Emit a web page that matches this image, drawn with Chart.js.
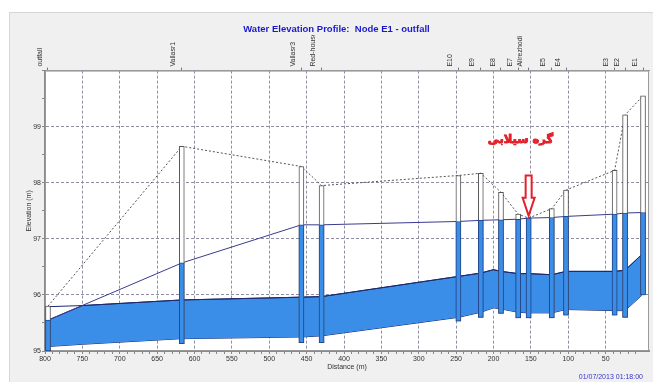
<!DOCTYPE html>
<html>
<head>
<meta charset="utf-8">
<style>
  html, body { margin: 0; padding: 0; background: #fff; }
  #panel { position: absolute; left: 9px; top: 12px; width: 644px; height: 370px; background: #f0f0f0; border-left: 1px solid #d6d6d6; border-top: 1px solid #d6d6d6; box-sizing: border-box; }
  #wrap { position: absolute; left: 0; top: 0; width: 653px; height: 382px; }
  #stamp { position: absolute; right: 10px; top: 373px; line-height: 8px; font-size: 7px; font-family: "Liberation Sans Narrow", "Liberation Sans", Arial, sans-serif; color: #3535c8; }
</style>
<script src="https://cdn.jsdelivr.net/npm/chart.js"></script>
</head>
<body>
<div id="panel"></div>
<div id="wrap"><canvas id="perfil"></canvas></div>
<div id="stamp">01/07/2013 01:18:00</div>
<script>
// nodes, from the outfall (left) to E1 (right)
var nodos = ['outfall', 'Vallasr1', 'Vallasr3', 'Red-house', 'E10', 'E9', 'E8', 'E7', 'Alirezhodi', 'E5', 'E4', 'E3', 'E2', 'E1'];
var distNodo = [796, 617, 457, 430, 247, 217, 190, 167, 153, 122, 103, 38, 24, 0];
var fondoNodo = [95.00, 95.13, 95.15, 95.15, 95.53, 95.60, 95.67, 95.59, 95.59, 95.59, 95.64, 95.64, 95.60, 96.00];
var techoNodo = [95.80, 98.65, 98.29, 97.95, 98.13, 98.17, 97.83, 97.44, 97.37, 97.54, 97.87, 98.22, 99.21, 99.55];
var aguaNodo = [95.55, 96.57, 97.25, 97.25, 97.31, 97.33, 97.34, 97.35, 97.37, 97.38, 97.40, 97.44, 97.46, 97.47];

// conduits (invert, crown and water inside them)
var distTramo = [796, 750, 617, 457, 430, 247, 217, 200, 190, 167, 153, 122, 103, 38, 24, 1];
var fondoTramo = [95.08, 95.12, 95.22, 95.25, 95.27, 95.60, 95.69, 95.77, 95.75, 95.69, 95.68, 95.68, 95.74, 95.72, 95.72, 96.00];
var coronaTramo = [95.79, 95.81, 95.91, 95.96, 95.97, 96.33, 96.39, 96.45, 96.42, 96.38, 96.38, 96.36, 96.42, 96.42, 96.44, 96.73];
var aguaTramo = [95.55, 95.81, 95.91, 95.96, 95.97, 96.33, 96.39, 96.45, 96.42, 96.38, 96.38, 96.36, 96.42, 96.42, 96.44, 96.73];

var titulo = 'Water Elevation Profile:  Node E1 - outfall';
var notaTexto = 'گره سیلابی';
var notaDist = 164, notaElev = 98.77;
var flechaDist = 153, flechaDesde = 98.13, flechaHasta = 97.41;

Chart.defaults.font.family = '"Liberation Sans Narrow", "Liberation Sans", Arial, sans-serif';
Chart.defaults.font.size = 7;
Chart.defaults.color = '#333';

function puntos(xs, ys) {
    return xs.map(function (x, i) { return { x: x, y: ys[i] }; });
}

function barras(xs, a, b) {
    return xs.map(function (x, i) { return { x: x, y: [a[i], b[i]] }; });
}

function entero(v) {
    return Math.abs(v - Math.round(v)) < 1e-6;
}

var fondoBlanco = {
    id: 'fondoBlanco',
    beforeDraw: function (chart) {
        var a = chart.chartArea, ctx = chart.ctx;
        ctx.save();
        ctx.fillStyle = '#fff';
        ctx.fillRect(a.left, a.top, a.right - a.left, a.bottom - a.top);
        ctx.restore();
    },
    beforeDatasetsDraw: function (chart) {
        var a = chart.chartArea, ctx = chart.ctx;
        ctx.save();
        ctx.strokeStyle = '#9a9a9a';
        ctx.lineWidth = 1;
        ctx.strokeRect(a.left + 0.5, a.top + 0.5, a.right - a.left - 1, a.bottom - a.top - 1);
        ctx.restore();
    }
};

// red note and arrow over the flooded node
var anotacion = {
    id: 'anotacion',
    afterDatasetsDraw: function (chart) {
        var ctx = chart.ctx, sx = chart.scales.x, sy = chart.scales.y;
        ctx.save();
        ctx.font = 'bold 11.5px "DejaVu Sans", sans-serif';
        ctx.fillStyle = '#e3202b';
        ctx.strokeStyle = '#e3202b';
        ctx.lineWidth = 0.9;
        ctx.lineJoin = 'round';
        ctx.textAlign = 'center';
        ctx.textBaseline = 'middle';
        var tx = sx.getPixelForValue(notaDist), ty = sy.getPixelForValue(notaElev);
        ctx.fillText(notaTexto, tx, ty);
        ctx.strokeText(notaTexto, tx, ty);
        var x = sx.getPixelForValue(flechaDist);
        var y0 = sy.getPixelForValue(flechaDesde), y1 = sy.getPixelForValue(flechaHasta);
        var cabeza = 18, ancho = 3, alas = 6;
        ctx.beginPath();
        ctx.moveTo(x - ancho, y0);
        ctx.lineTo(x + ancho, y0);
        ctx.lineTo(x + ancho, y1 - cabeza);
        ctx.lineTo(x + alas, y1 - cabeza);
        ctx.lineTo(x, y1);
        ctx.lineTo(x - alas, y1 - cabeza);
        ctx.lineTo(x - ancho, y1 - cabeza);
        ctx.closePath();
        ctx.fillStyle = '#fff';
        ctx.fill();
        ctx.lineJoin = 'miter';
        ctx.lineWidth = 2;
        ctx.stroke();
        ctx.restore();
    }
};

var azul = '#3a8ee8';
var linea = { pointRadius: 0, borderWidth: 1, tension: 0, xAxisID: 'x', yAxisID: 'y' };

var chart = new Chart(document.getElementById('perfil').getContext('2d'), {
    type: 'line',
    data: {
        datasets: [
            Object.assign({ label: 'invert', data: puntos(distTramo, fondoTramo), borderColor: '#1c2a6e', fill: false, order: 6 }, linea),
            Object.assign({ label: 'water', data: puntos(distTramo, aguaTramo), borderColor: '#1c2a6e', backgroundColor: azul, fill: '-1', order: 5 }, linea),
            Object.assign({ label: 'crown', data: puntos(distTramo, coronaTramo), borderColor: '#1c2a6e', fill: false, order: 4 }, linea),
            Object.assign({ label: 'HGL', data: puntos(distNodo, aguaNodo), borderColor: '#3b3b8f', fill: false, order: 3 }, linea),
            Object.assign({ label: 'ground', data: puntos(distNodo, techoNodo), borderColor: '#555', borderDash: [2, 2], fill: false, order: 3 }, linea),
            { type: 'bar', label: 'node', data: barras(distNodo, fondoNodo, techoNodo), backgroundColor: '#fff', borderColor: '#555',
              borderWidth: 1, borderSkipped: false, barThickness: 5, grouped: false, order: 2, xAxisID: 'x', yAxisID: 'y' },
            { type: 'bar', label: 'node water', data: barras(distNodo, fondoNodo, aguaNodo), backgroundColor: azul, borderColor: '#24488f',
              borderWidth: 1, borderSkipped: false, barThickness: 5, grouped: false, order: 1, xAxisID: 'x', yAxisID: 'y' }
        ]
    },
    options: {
        responsive: true,
        maintainAspectRatio: false,
        animation: false,
        layout: { padding: { left: 24, right: 4, top: 12, bottom: 11 } },
        plugins: {
            legend: { display: false },
            tooltip: { enabled: false },
            title: {
                display: true,
                text: titulo,
                color: '#1a1acc',
                font: { size: 9.5, weight: 'bold' },
                padding: { top: 11.6, bottom: 0 }
            }
        },
        scales: {
            x: {
                type: 'linear', min: -8, max: 800, reverse: true, offset: false,
                afterBuildTicks: function (s) {
                    s.ticks = s.ticks.filter(function (t) { return t.value >= 0 && t.value % 10 === 0; });
                },
                ticks: {
                    stepSize: 10, autoSkip: false, maxRotation: 0, padding: 1,
                    callback: function (v) { return v % 50 === 0 ? String(v) : ''; }
                },
                grid: {
                    offset: false, tickLength: 3, tickColor: '#888',
                    color: function (c) { return c.tick && c.tick.value % 50 === 0 ? '#8e8ea4' : 'rgba(0,0,0,0)'; }
                },
                border: { color: '#8a8a8a', width: 2, dash: [3, 2] },
                title: { display: true, text: 'Distance (m)', padding: { top: 0, bottom: 0 } },
                afterFit: function (s) { s.height = 20; }
            },
            x2: {
                type: 'linear', position: 'top', min: -8, max: 800, reverse: true, offset: false,
                afterBuildTicks: function (s) {
                    s.ticks = distNodo.map(function (d) { return { value: d }; });
                },
                ticks: {
                    autoSkip: false, minRotation: 90, maxRotation: 90, padding: 1,
                    callback: function (v, i) { return nodos[i]; }
                },
                grid: { drawOnChartArea: false, tickLength: 3, tickColor: '#777' },
                border: { color: '#9a9a9a', width: 1 },
                afterFit: function (s) { s.height = 35.6; }
            },
            y: {
                type: 'linear', min: 95, max: 100,
                ticks: {
                    stepSize: 0.5, autoSkip: false, padding: 1,
                    callback: function (v) { return entero(v) && v < 100 ? String(Math.round(v)) : ''; }
                },
                grid: {
                    tickLength: 3, tickColor: '#888',
                    color: function (c) { return c.tick && entero(c.tick.value) ? '#8e8ea4' : 'rgba(0,0,0,0)'; }
                },
                border: { color: '#8a8a8a', width: 2, dash: [3, 2] },
                title: { display: true, text: 'Elevation (m)', padding: { top: 1, bottom: 0 } },
                afterFit: function (s) { s.width = 21; }
            }
        }
    },
    plugins: [fondoBlanco, anotacion]
});
</script>
</body>
</html>
